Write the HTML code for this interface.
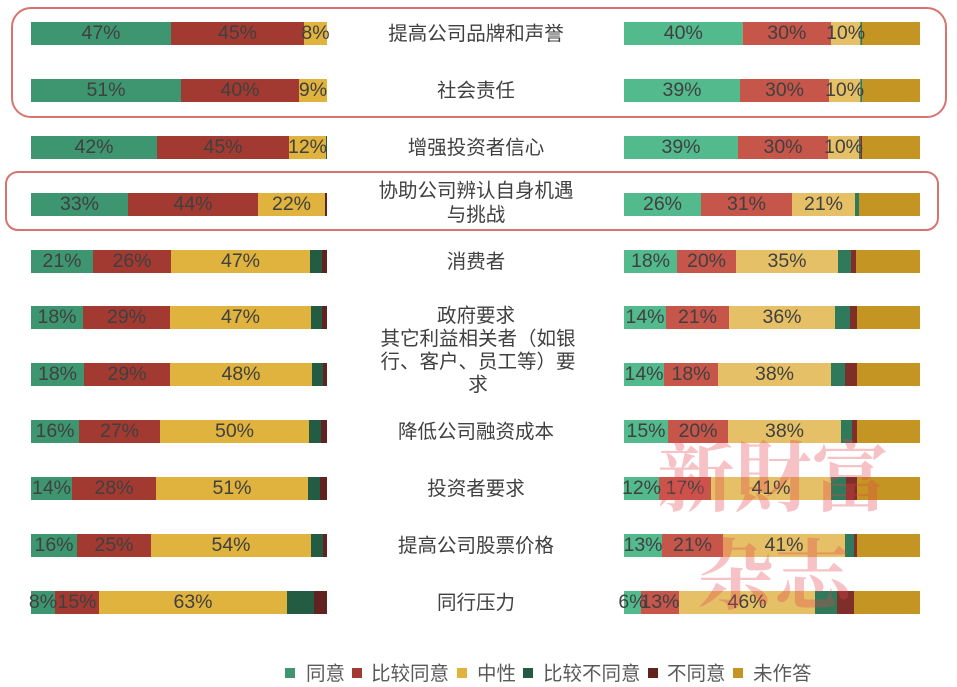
<!DOCTYPE html>
<html><head><meta charset="utf-8">
<style>
html,body{margin:0;padding:0;background:#fff;}
svg{display:block;}
.p{font-family:"Liberation Sans","Noto Sans CJK SC",sans-serif;font-size:19.5px;fill:#404040;text-anchor:middle;}
.l{font-family:"Liberation Sans","Noto Sans CJK SC",sans-serif;font-size:19.5px;fill:#404040;text-anchor:middle;}
.g{font-family:"Liberation Sans","Noto Sans CJK SC",sans-serif;font-size:19.5px;fill:#595959;}
.wm{font-family:"Noto Serif CJK SC","Noto Serif CJK SC",serif;font-weight:bold;font-size:77px;fill:rgba(228,70,80,0.33);text-anchor:middle;}
</style></head>
<body>
<svg width="957" height="687" viewBox="0 0 957 687" xmlns="http://www.w3.org/2000/svg">
<rect width="957" height="687" fill="#fff"/>

<!-- highlight boxes -->
<rect x="12" y="8" width="934" height="109" rx="19" ry="19" fill="none" stroke="#d87470" stroke-width="2"/>
<rect x="6" y="172" width="932" height="58" rx="12" ry="12" fill="none" stroke="#d87470" stroke-width="2"/>

<!-- Row 1 -->
<g transform="translate(0,22)">
<rect x="31" y="0" width="140" height="23" fill="#3d9670"/><rect x="171" y="0" width="133" height="23" fill="#a33a31"/><rect x="304" y="0" width="23" height="23" fill="#e0b23e"/>
<text class="p" x="101" y="17">47%</text><text class="p" x="237.5" y="17">45%</text><text class="p" x="315.5" y="17">8%</text>
<rect x="624" y="0" width="118.7" height="23" fill="#52ba8c"/><rect x="742.7" y="0" width="88.3" height="23" fill="#c6554a"/><rect x="831" y="0" width="29.3" height="23" fill="#e5c066"/><rect x="860.3" y="0" width="1.7" height="23" fill="#2e7a5a"/><rect x="862" y="0" width="58" height="23" fill="#c49522"/>
<text class="p" x="683.3" y="17">40%</text><text class="p" x="786.8" y="17">30%</text><text class="p" x="845.6" y="17">10%</text>
</g>
<!-- Row 2 -->
<g transform="translate(0,79)">
<rect x="31" y="0" width="150" height="23" fill="#3d9670"/><rect x="181" y="0" width="118" height="23" fill="#a33a31"/><rect x="299" y="0" width="28" height="23" fill="#e0b23e"/>
<text class="p" x="106" y="17">51%</text><text class="p" x="240" y="17">40%</text><text class="p" x="313" y="17">9%</text>
<rect x="624" y="0" width="116" height="23" fill="#52ba8c"/><rect x="740" y="0" width="89" height="23" fill="#c6554a"/><rect x="829" y="0" width="31.3" height="23" fill="#e5c066"/><rect x="860.3" y="0" width="2" height="23" fill="#2e7a5a"/><rect x="862.3" y="0" width="57.7" height="23" fill="#c49522"/>
<text class="p" x="682" y="17">39%</text><text class="p" x="784.5" y="17">30%</text><text class="p" x="844.6" y="17">10%</text>
</g>
<!-- Row 3 -->
<g transform="translate(0,136)">
<rect x="31" y="0" width="126" height="23" fill="#3d9670"/><rect x="157" y="0" width="132" height="23" fill="#a33a31"/><rect x="289" y="0" width="37" height="23" fill="#e0b23e"/><rect x="326" y="0" width="1" height="23" fill="#235c43"/>
<text class="p" x="94" y="17">42%</text><text class="p" x="223" y="17">45%</text><text class="p" x="307.5" y="17">12%</text>
<rect x="624" y="0" width="114" height="23" fill="#52ba8c"/><rect x="738" y="0" width="90" height="23" fill="#c6554a"/><rect x="828" y="0" width="31" height="23" fill="#e5c066"/><rect x="859" y="0" width="1.3" height="23" fill="#2e7a5a"/><rect x="860.3" y="0" width="1.7" height="23" fill="#7f2e2a"/><rect x="862" y="0" width="58" height="23" fill="#c49522"/>
<text class="p" x="681" y="17">39%</text><text class="p" x="783" y="17">30%</text><text class="p" x="843.5" y="17">10%</text>
</g>
<!-- Row 4 -->
<g transform="translate(0,193)">
<rect x="31" y="0" width="97" height="23" fill="#3d9670"/><rect x="128" y="0" width="130" height="23" fill="#a33a31"/><rect x="258" y="0" width="67" height="23" fill="#e0b23e"/><rect x="325" y="0" width="2" height="23" fill="#62221f"/>
<text class="p" x="79.5" y="17">33%</text><text class="p" x="193" y="17">44%</text><text class="p" x="291.5" y="17">22%</text>
<rect x="624" y="0" width="77" height="23" fill="#52ba8c"/><rect x="701" y="0" width="91" height="23" fill="#c6554a"/><rect x="792" y="0" width="63" height="23" fill="#e5c066"/><rect x="855" y="0" width="4" height="23" fill="#2e7a5a"/><rect x="859" y="0" width="61" height="23" fill="#c49522"/>
<text class="p" x="662.5" y="17">26%</text><text class="p" x="746.5" y="17">31%</text><text class="p" x="823.5" y="17">21%</text>
</g>
<!-- Row 5 -->
<g transform="translate(0,250)">
<rect x="31" y="0" width="62" height="23" fill="#3d9670"/><rect x="93" y="0" width="78" height="23" fill="#a33a31"/><rect x="171" y="0" width="139" height="23" fill="#e0b23e"/><rect x="310" y="0" width="12" height="23" fill="#235c43"/><rect x="322" y="0" width="5" height="23" fill="#62221f"/>
<text class="p" x="62" y="17">21%</text><text class="p" x="132" y="17">26%</text><text class="p" x="240.5" y="17">47%</text>
<rect x="624" y="0" width="53" height="23" fill="#52ba8c"/><rect x="677" y="0" width="59" height="23" fill="#c6554a"/><rect x="736" y="0" width="102" height="23" fill="#e5c066"/><rect x="838" y="0" width="13" height="23" fill="#2e7a5a"/><rect x="851" y="0" width="5" height="23" fill="#7f2e2a"/><rect x="856" y="0" width="64" height="23" fill="#c49522"/>
<text class="p" x="650.5" y="17">18%</text><text class="p" x="706.5" y="17">20%</text><text class="p" x="787" y="17">35%</text>
</g>
<!-- Row 6 -->
<g transform="translate(0,306)">
<rect x="31" y="0" width="52" height="23" fill="#3d9670"/><rect x="83" y="0" width="87" height="23" fill="#a33a31"/><rect x="170" y="0" width="141" height="23" fill="#e0b23e"/><rect x="311" y="0" width="11" height="23" fill="#235c43"/><rect x="322" y="0" width="5" height="23" fill="#62221f"/>
<text class="p" x="57" y="17">18%</text><text class="p" x="126.5" y="17">29%</text><text class="p" x="240.5" y="17">47%</text>
<rect x="624" y="0" width="42" height="23" fill="#52ba8c"/><rect x="666" y="0" width="63" height="23" fill="#c6554a"/><rect x="729" y="0" width="106" height="23" fill="#e5c066"/><rect x="835" y="0" width="15" height="23" fill="#2e7a5a"/><rect x="850" y="0" width="7" height="23" fill="#7f2e2a"/><rect x="857" y="0" width="63" height="23" fill="#c49522"/>
<text class="p" x="645" y="17">14%</text><text class="p" x="697.5" y="17">21%</text><text class="p" x="782" y="17">36%</text>
</g>
<!-- Row 7 -->
<g transform="translate(0,363)">
<rect x="31" y="0" width="53" height="23" fill="#3d9670"/><rect x="84" y="0" width="86" height="23" fill="#a33a31"/><rect x="170" y="0" width="142" height="23" fill="#e0b23e"/><rect x="312" y="0" width="11" height="23" fill="#235c43"/><rect x="323" y="0" width="4" height="23" fill="#62221f"/>
<text class="p" x="57.5" y="17">18%</text><text class="p" x="127" y="17">29%</text><text class="p" x="241" y="17">48%</text>
<rect x="624" y="0" width="40" height="23" fill="#52ba8c"/><rect x="664" y="0" width="54" height="23" fill="#c6554a"/><rect x="718" y="0" width="113" height="23" fill="#e5c066"/><rect x="831" y="0" width="14" height="23" fill="#2e7a5a"/><rect x="845" y="0" width="12" height="23" fill="#7f2e2a"/><rect x="857" y="0" width="63" height="23" fill="#c49522"/>
<text class="p" x="644" y="17">14%</text><text class="p" x="691" y="17">18%</text><text class="p" x="774.5" y="17">38%</text>
</g>
<!-- Row 8 -->
<g transform="translate(0,420)">
<rect x="31" y="0" width="48" height="23" fill="#3d9670"/><rect x="79" y="0" width="81" height="23" fill="#a33a31"/><rect x="160" y="0" width="149" height="23" fill="#e0b23e"/><rect x="309" y="0" width="12" height="23" fill="#235c43"/><rect x="321" y="0" width="6" height="23" fill="#62221f"/>
<text class="p" x="55" y="17">16%</text><text class="p" x="119.5" y="17">27%</text><text class="p" x="234.5" y="17">50%</text>
<rect x="624" y="0" width="44" height="23" fill="#52ba8c"/><rect x="668" y="0" width="60" height="23" fill="#c6554a"/><rect x="728" y="0" width="113" height="23" fill="#e5c066"/><rect x="841" y="0" width="11" height="23" fill="#2e7a5a"/><rect x="852" y="0" width="5" height="23" fill="#7f2e2a"/><rect x="857" y="0" width="63" height="23" fill="#c49522"/>
<text class="p" x="646" y="17">15%</text><text class="p" x="698" y="17">20%</text><text class="p" x="784.5" y="17">38%</text>
</g>
<!-- Row 9 -->
<g transform="translate(0,477)">
<rect x="31" y="0" width="41" height="23" fill="#3d9670"/><rect x="72" y="0" width="84" height="23" fill="#a33a31"/><rect x="156" y="0" width="152" height="23" fill="#e0b23e"/><rect x="308" y="0" width="12" height="23" fill="#235c43"/><rect x="320" y="0" width="7" height="23" fill="#62221f"/>
<text class="p" x="51.5" y="17">14%</text><text class="p" x="114" y="17">28%</text><text class="p" x="232" y="17">51%</text>
<rect x="624" y="0" width="35" height="23" fill="#52ba8c"/><rect x="659" y="0" width="52" height="23" fill="#c6554a"/><rect x="711" y="0" width="120" height="23" fill="#e5c066"/><rect x="831" y="0" width="15" height="23" fill="#2e7a5a"/><rect x="846" y="0" width="11" height="23" fill="#7f2e2a"/><rect x="857" y="0" width="63" height="23" fill="#c49522"/>
<text class="p" x="641.5" y="17">12%</text><text class="p" x="685" y="17">17%</text><text class="p" x="771" y="17">41%</text>
</g>
<!-- Row 10 -->
<g transform="translate(0,534)">
<rect x="31" y="0" width="46" height="23" fill="#3d9670"/><rect x="77" y="0" width="74" height="23" fill="#a33a31"/><rect x="151" y="0" width="160" height="23" fill="#e0b23e"/><rect x="311" y="0" width="12" height="23" fill="#235c43"/><rect x="323" y="0" width="4" height="23" fill="#62221f"/>
<text class="p" x="54" y="17">16%</text><text class="p" x="114" y="17">25%</text><text class="p" x="231" y="17">54%</text>
<rect x="624" y="0" width="38" height="23" fill="#52ba8c"/><rect x="662" y="0" width="61" height="23" fill="#c6554a"/><rect x="723" y="0" width="122" height="23" fill="#e5c066"/><rect x="845" y="0" width="9" height="23" fill="#2e7a5a"/><rect x="854" y="0" width="3" height="23" fill="#7f2e2a"/><rect x="857" y="0" width="63" height="23" fill="#c49522"/>
<text class="p" x="643" y="17">13%</text><text class="p" x="692.5" y="17">21%</text><text class="p" x="784" y="17">41%</text>
</g>
<!-- Row 11 -->
<g transform="translate(0,591)">
<rect x="31" y="0" width="24" height="23" fill="#3d9670"/><rect x="55" y="0" width="44" height="23" fill="#a33a31"/><rect x="99" y="0" width="188" height="23" fill="#e0b23e"/><rect x="287" y="0" width="27" height="23" fill="#235c43"/><rect x="314" y="0" width="13" height="23" fill="#62221f"/>
<text class="p" x="43" y="17">8%</text><text class="p" x="77" y="17">15%</text><text class="p" x="193" y="17">63%</text>
<rect x="624" y="0" width="17" height="23" fill="#52ba8c"/><rect x="641" y="0" width="38" height="23" fill="#c6554a"/><rect x="679" y="0" width="136" height="23" fill="#e5c066"/><rect x="815" y="0" width="22" height="23" fill="#2e7a5a"/><rect x="837" y="0" width="17" height="23" fill="#7f2e2a"/><rect x="854" y="0" width="66" height="23" fill="#c49522"/>
<text class="p" x="632.5" y="17">6%</text><text class="p" x="660" y="17">13%</text><text class="p" x="747" y="17">46%</text>
</g>

<!-- Category labels -->
<text class="l" x="476" y="40">提高公司品牌和声誉</text>
<text class="l" x="476" y="97">社会责任</text>
<text class="l" x="476" y="154">增强投资者信心</text>
<text class="l" x="476" y="197">协助公司辨认自身机遇</text>
<text class="l" x="476" y="221">与挑战</text>
<text class="l" x="476" y="268">消费者</text>
<text class="l" x="476" y="322">政府要求</text>
<text class="l" x="478" y="345">其它利益相关者（如银</text>
<text class="l" x="478" y="368">行、客户、员工等）要</text>
<text class="l" x="478" y="391">求</text>
<text class="l" x="476" y="438">降低公司融资成本</text>
<text class="l" x="476" y="495">投资者要求</text>
<text class="l" x="476" y="552">提高公司股票价格</text>
<text class="l" x="476" y="609">同行压力</text>

<!-- Legend -->
<rect x="285" y="668" width="10" height="10" fill="#3d9670"/><text class="g" x="306" y="680">同意</text>
<rect x="352" y="668" width="10" height="10" fill="#a33a31"/><text class="g" x="371" y="680">比较同意</text>
<rect x="457" y="668" width="10" height="10" fill="#e0b23e"/><text class="g" x="477" y="680">中性</text>
<rect x="523" y="668" width="10" height="10" fill="#235c43"/><text class="g" x="543" y="680">比较不同意</text>
<rect x="648" y="668" width="10" height="10" fill="#62221f"/><text class="g" x="667" y="680">不同意</text>
<rect x="733" y="668" width="10" height="10" fill="#c49522"/><text class="g" x="753" y="680">未作答</text>

<!-- Watermark -->
<text class="wm" x="773" y="505">新財富</text>
<text class="wm" x="774" y="603">杂志</text>
</svg>
</body></html>
